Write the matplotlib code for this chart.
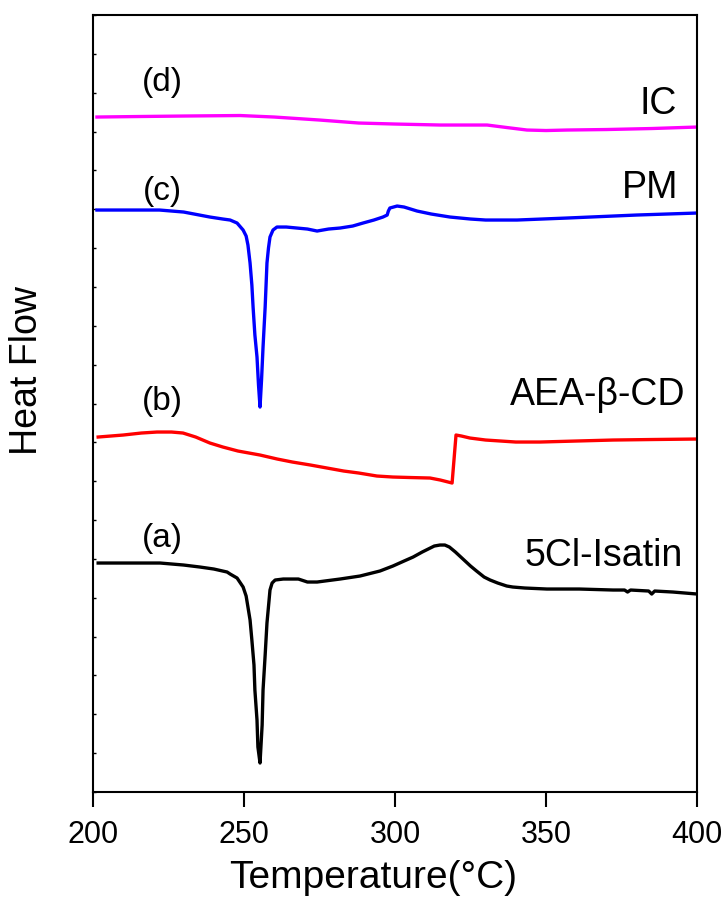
import numpy as np
import matplotlib
matplotlib.use("Agg")
import matplotlib.pyplot as plt

plt.rcParams["font.family"] = ["Liberation Sans", "DejaVu Sans"]

# DSC traces, heat flow in arbitrary units (stacked)
temp_a = [201.7, 215.0, 222.2, 230.0, 235.4, 240.0, 244.4, 245.4, 247.7, 249.7,
          250.7, 251.3, 252.0, 252.6, 253.3, 253.6, 254.3, 254.6, 255.3, 256.0,
          256.3, 257.0, 257.6, 258.3, 258.6, 259.3, 260.3, 263.0, 268.0, 271.0,
          274.2, 281.8, 288.4, 295.0, 299.3, 303.0, 306.0, 309.0, 311.0, 313.0,
          314.9, 316.5, 318.0, 320.0, 322.5, 325.0, 327.0, 329.5, 331.5, 334.0,
          337.0, 339.0, 343.0, 350.3, 361.0, 372.2, 376.0, 377.0, 378.0, 384.0,
          385.0, 386.0, 392.0, 400.0]
flow_a = [229, 229, 229, 227, 225, 223, 220, 218, 214, 205,
          196, 185, 172, 152, 127, 102, 72, 45, 29, 67,
          102, 137, 169, 192, 202, 209, 212, 213, 213, 210,
          210, 213, 216, 221, 226, 231, 235, 240, 243, 246,
          247, 247, 245, 240, 233, 226, 221, 215, 212, 209,
          206, 205, 204, 203, 203, 202, 202, 200, 202, 201,
          198, 201, 200, 198]

temp_b = [201.7, 210.0, 216.0, 221.2, 226.0, 229.8, 234.0, 238.7, 243.0, 248.0,
          255.3, 261.0, 266.0, 272.0, 277.5, 283.0, 288.0, 294.0, 299.3, 305.0,
          311.6, 315.0, 318.9, 320.2, 322.0, 324.8, 330.0, 335.0, 340.0, 348.0,
          360.0, 372.2, 385.0, 400.0]
flow_b = [355, 357, 359, 360, 360, 359, 355, 349, 345, 341,
          337, 333, 330, 327, 324, 321, 319, 316, 315, 314.5,
          314, 312, 309, 357, 356, 354, 352, 351, 350, 350,
          351, 352, 352.5, 353]

temp_c = [201.3, 215.0, 222.0, 230.0, 238.7, 243.0, 245.4, 247.7, 249.7, 250.7,
          251.3, 252.0, 252.6, 253.0, 253.6, 254.3, 254.8, 255.3, 255.8, 256.3,
          257.0, 257.3, 257.6, 258.1, 258.6, 259.6, 260.9, 264.0, 267.5, 271.0,
          274.2, 278.0, 281.8, 286.0, 289.4, 293.0, 296.0, 297.4, 297.8, 298.3,
          300.7, 303.0, 307.3, 312.0, 318.2, 325.0, 330.0, 340.4, 357.0, 380.0,
          400.0]
flow_c = [582, 582, 582, 580, 575, 573, 572, 569, 562, 556,
          547, 529, 507, 485, 457, 435, 407, 385, 412, 445,
          485, 507, 529, 544, 555, 562, 565, 565, 564, 563,
          561, 563, 564, 566, 569, 572, 575, 577, 581, 584,
          586, 585, 581, 578, 575, 573, 572, 572, 574, 577,
          579]

temp_d = [201.3, 215.0, 230.0, 248.7, 260.0, 275.0, 288.0, 300.0, 315.0, 330.5,
          337.0, 343.7, 350.0, 357.0, 370.0, 385.0, 400.0]
flow_d = [675, 675.5, 676, 676.5, 675, 672, 669, 668, 667, 667,
          664.5, 662, 661.5, 662, 662.5, 663.5, 665]

letters = ["(a)", "(b)", "(c)", "(d)"]
letter_y = [254, 391, 601, 710]
names = ["5Cl-Isatin", "AEA-\u03b2-CD", "PM", "IC"]
name_x = [395.4, 396.0, 393.7, 393.4]
name_y = [236, 397, 604, 688]
colors = ["black", "red", "blue", "magenta"]

fig = plt.figure(figsize=(7.25, 9.11), dpi=100)
ax = fig.add_axes([0.1283, 0.1306, 0.8331, 0.8529])

for t, f, c in zip([temp_a, temp_b, temp_c, temp_d],
                   [flow_a, flow_b, flow_c, flow_d], colors):
  ax.plot(t, f, color=c, lw=2.4, solid_joinstyle="round")

for lab, y in zip(letters, letter_y):
  ax.text(223.0, y, lab, fontsize=24, ha="center", va="center")
for lab, x, y in zip(names, name_x, name_y):
  ax.text(x, y, lab, fontsize=27, ha="right", va="center")

ax.set_xlim(200, 400)
ax.set_ylim(0, 777)
ax.set_xticks([200, 250, 300, 350, 400])
ax.set_yticks(np.linspace(0, 777, 21))
ax.set_yticklabels([])
ax.tick_params(axis="x", direction="out", length=11, width=1.5,
               labelsize=22, pad=9)
ax.tick_params(axis="y", direction="in", length=2.5, width=1.0)
for s in ax.spines.values():
  s.set_linewidth(1.5)

ax.set_xlabel("Temperature(\u00b0C)", fontsize=28)
ax.xaxis.set_label_coords(0.464, -0.1236)
ax.xaxis.label.set_va("baseline")
ax.set_ylabel("Heat Flow", fontsize=27)
ax.yaxis.set_label_coords(-0.109, 0.543)
ax.yaxis.label.set_va("center")
ax.yaxis.label.set_ha("center")

fig.savefig("out.png", dpi=100)
